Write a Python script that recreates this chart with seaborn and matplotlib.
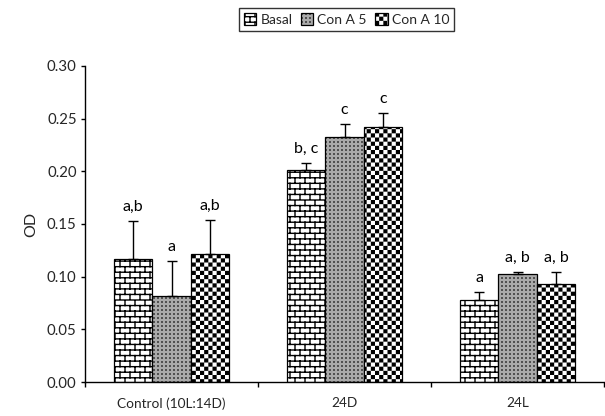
import numpy as np
import pandas as pd
import matplotlib
matplotlib.use("Agg")
import matplotlib.pyplot as plt
import matplotlib.hatch as mhatch
from matplotlib.path import Path
import seaborn as sns

# ---------------- data ----------------
groups = ["Control (10L:14D)", "24D", "24L"]
conditions = ["Basal", "Con A 5", "Con A 10"]
basal = [0.117, 0.201, 0.078]
cona5 = [0.082, 0.233, 0.1025]
cona10 = [0.1215, 0.242, 0.093]
basal_sd = [0.036, 0.007, 0.0075]
cona5_sd = [0.033, 0.012, 0.002]
cona10_sd = [0.0325, 0.013, 0.0115]
basal_lbl = ["a,b", "b, c", "a"]
cona5_lbl = ["a", "c", "a, b"]
cona10_lbl = ["a,b", "c", "a, b"]
yticks = [0.00, 0.05, 0.10, 0.15, 0.20, 0.25, 0.30]

# ---------------- custom hatch patterns ----------------
HLW = 1.0  # hatch linewidth (pt)
rcl = HLW * 100 / 72 / 100  # stroke width in tile units (tile = 1 inch = 100 px)


class _CustomHatch(mhatch.HatchPatternBase):
    char = None

    def __init__(self, hatch, density):
        if hatch is not None and self.char in hatch:
            v, c = self.build()
        else:
            v, c = np.empty((0, 2)), np.empty(0, dtype=Path.code_type)
        self._v, self._c = v, c
        self.num_vertices = len(v)

    def set_vertices_and_codes(self, vertices, codes):
        vertices[:] = self._v
        codes[:] = self._c


def _squares(centers, side):
    v, c = [], []
    h = side / 2
    for (x, y) in centers:
        v += [[x - h, y - h], [x + h, y - h], [x + h, y + h], [x - h, y + h], [x - h, y - h]]
        c += [Path.MOVETO, Path.LINETO, Path.LINETO, Path.LINETO, Path.CLOSEPOLY]
    return np.array(v, float), np.array(c, dtype=Path.code_type)


class BrickHatch(_CustomHatch):
    char = "o"

    def build(self):
        rows, cols = 18, 10
        v, c = [], []
        for i in range(rows + 1):
            y = i / rows
            v += [[0, y], [1, y]]
            c += [Path.MOVETO, Path.LINETO]
        for i in range(rows):
            y0, y1 = i / rows, (i + 1) / rows
            xs = np.arange(cols + 1) / cols if i % 2 == 0 else (np.arange(cols) + 0.5) / cols
            for x in xs:
                v += [[x, y0], [x, y1]]
                c += [Path.MOVETO, Path.LINETO]
        return np.array(v, float), np.array(c, dtype=Path.code_type)


class CheckerHatch(_CustomHatch):
    char = "O"

    def build(self):
        n = 24
        cell = 1 / n
        centers = [((cc + 0.5) * cell, (r + 0.5) * cell)
                   for r in range(n) for cc in range(n) if (r + cc) % 2 == 0]
        return _squares(centers, max(cell - rcl, 0.002))


class FineHatch(_CustomHatch):
    char = "."

    def build(self):
        n = 25
        cell = 1 / n
        centers = [((cc + 0.5) * cell, (r + 0.5) * cell)
                   for r in range(n) for cc in range(n)]
        return _squares(centers, 0.002)


mhatch._hatch_types = [mhatch.HorizontalHatch, mhatch.VerticalHatch,
                       mhatch.NorthEastHatch, mhatch.SouthEastHatch,
                       BrickHatch, CheckerHatch, FineHatch]

# ---------------- style ----------------
sns.set_theme(style="ticks")
plt.rcParams["font.family"] = ["Lato", "DejaVu Sans"]
plt.rcParams["hatch.linewidth"] = HLW
plt.rcParams["hatch.color"] = "black"

df = pd.DataFrame({
    "group": groups * 3,
    "condition": [conditions[0]] * 3 + [conditions[1]] * 3 + [conditions[2]] * 3,
    "OD": basal + cona5 + cona10,
})
sds = [basal_sd, cona5_sd, cona10_sd]
lbls = [basal_lbl, cona5_lbl, cona10_lbl]
faces = ["white", "#aaaaaa", "white"]
hatches = ["o", ".", "O"]

fig = plt.figure(figsize=(6.05, 4.16), dpi=100)
ax = fig.add_axes([85 / 605, 1 - 382 / 416, 519 / 605, 316 / 416])

sns.barplot(data=df, x="group", y="OD", hue="condition", order=groups,
            hue_order=conditions, palette=faces, saturation=1, width=0.667,
            errorbar=None, edgecolor="black", linewidth=0.9, legend=False, ax=ax)

bar_containers = list(ax.containers)
for k, cont in enumerate(bar_containers):
    xs, ys = [], []
    for p in cont.patches:
        p.set_hatch(hatches[k])
        p.set_edgecolor("black")
        xs.append(p.get_x() + p.get_width() / 2)
        ys.append(p.get_height())
    yerr = np.array([np.zeros(len(ys)), sds[k]])
    ax.errorbar(xs, ys, yerr=yerr, fmt="none", ecolor="black", elinewidth=1.0,
                capsize=3.5, capthick=1.0, zorder=3)
    for x, y, s, t in zip(xs, ys, sds[k], lbls[k]):
        ax.annotate(t, (x, y + s), xytext=(0, 5), textcoords="offset points",
                    ha="center", va="bottom", fontsize=11.5, color="black")

ax.set_ylim(0, 0.30)
ax.set_xlim(-0.5, 2.5)
ax.set_yticks(yticks)
ax.set_yticklabels([f"{t:.2f}" for t in yticks])
ax.set_xticks([-0.5, 0.5, 1.5, 2.5], minor=True)
ax.tick_params(axis="x", which="major", length=0, pad=11, labelsize=9.8)
ax.tick_params(axis="x", which="minor", length=3.5, width=1, direction="out", color="black")
ax.tick_params(axis="y", length=3, width=1, pad=3, labelsize=10.8, color="black")
ax.set_xlabel("")
ax.set_ylabel("OD", fontsize=11.5)
ax.yaxis.set_label_coords(-0.09, 0.5)
for s in ["top", "right"]:
    ax.spines[s].set_visible(False)
for s in ["left", "bottom"]:
    ax.spines[s].set_color("black")
    ax.spines[s].set_linewidth(1)

leg = fig.legend(bar_containers, conditions, loc="upper center",
                 bbox_to_anchor=(0.573, 0.98), ncol=3, frameon=True, fancybox=False,
                 edgecolor="black", fontsize=10, handlelength=0.9, handleheight=0.9,
                 handletextpad=0.3, columnspacing=0.6, borderpad=0.35, borderaxespad=0)
leg.get_frame().set_linewidth(1)

fig.savefig("out.png", dpi=100, facecolor="white")
